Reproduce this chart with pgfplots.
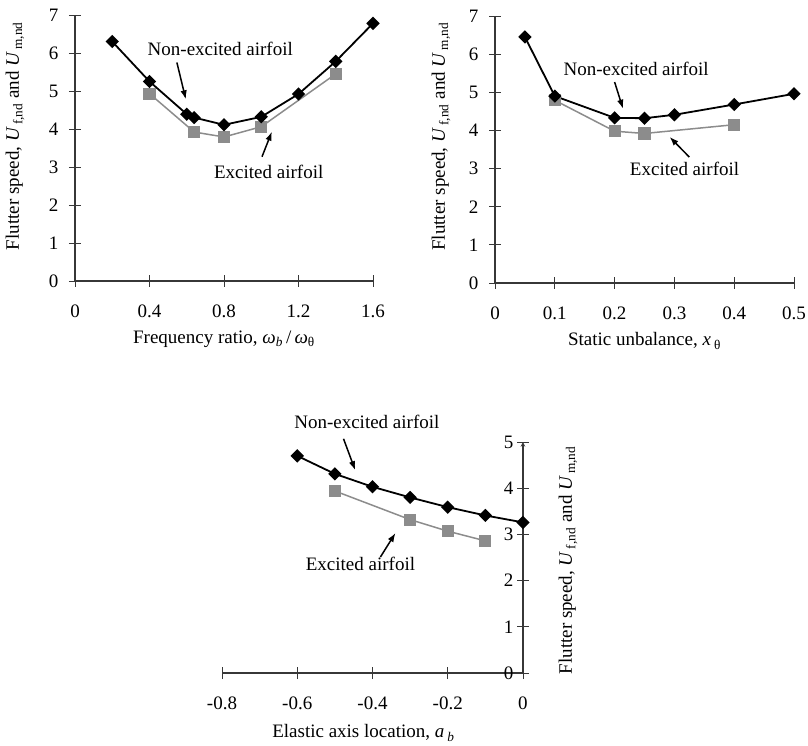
\documentclass[border=0pt]{standalone}
\usepackage{fontspec}
\setmainfont{Liberation Serif}
\usepackage{pgfplots}
\pgfplotsset{compat=1.18}
\usetikzlibrary{arrows.meta}
\definecolor{exgray}{RGB}{140,140,140}
\definecolor{axgray}{RGB}{55,55,55}
\newcommand{\tf}{\fontsize{19}{22}\selectfont}
\pgfplotsset{
 base/.style={scale only axis, axis x line=bottom, axis y line=left,
   axis line style={-, axgray, line width=1.1pt}, x axis line style={-}, y axis line style={-},
   tick align=center, major tick length=12pt, tick style={axgray, line width=0.8pt},
   clip=false, /pgf/number format/assume math mode=true,
   ticklabel style={font=\tf}, label style={font=\tf},
   xticklabel style={yshift=-14pt}, yticklabel style={xshift=-7pt}},
 nonex/.style={black, line width=1.8pt, mark=square*, mark size=3.8pt, mark options={rotate=45, solid, fill=black}},
 ex/.style={exgray, line width=1.5pt, mark=square*, mark size=5.3pt, mark options={fill=exgray}},
}
\tikzset{note/.style={font=\tf, inner sep=0pt},
 arr/.style={-{Latex[length=9pt,width=6.5pt]}, line width=1.5pt, black}}
\begin{document}
\begin{tikzpicture}[font=\tf]
\path[use as bounding box] (0,0) rectangle (808pt,745pt);
% Plot 1
\begin{axis}[base, at={(75pt,464pt)}, anchor=south west, width=298pt, height=266pt,
  xmin=0, xmax=1.6, ymin=0, ymax=7, xtick={0,0.4,0.8,1.2,1.6}, ytick={0,1,...,7},
  xlabel={Frequency ratio, \textit{ω}\textsubscript{\textit{b}}\,/\,\textit{ω}\textsubscript{θ}},
  xlabel style={at={([yshift=-58pt]axis description cs:0.5,0)}, anchor=center},
  ylabel={Flutter speed, \textit{U}\textsubscript{\,f,nd} and \textit{U}\textsubscript{\,m,nd}},
  ylabel style={at={([xshift=-60pt]axis description cs:0,0.545)}, anchor=center}]
\addplot[ex] coordinates {(0.4,4.93)(0.64,3.92)(0.8,3.79)(1.0,4.06)(1.4,5.45)};
\addplot[nonex] coordinates {(0.2,6.30)(0.4,5.25)(0.6,4.39)(0.64,4.30)(0.8,4.11)(1.0,4.32)(1.2,4.92)(1.4,5.78)(1.6,6.78)};
\node[note] at (axis cs:0.78,6.12) {Non-excited airfoil};
\draw[arr] (axis cs:0.547,5.75) -- (axis cs:0.595,4.78);
\node[note] at (axis cs:1.04,2.88) {Excited airfoil};
\draw[arr] (axis cs:1.004,3.27) -- (axis cs:1.057,3.93);
\end{axis}
% Plot 2
\begin{axis}[base, at={(495pt,462pt)}, anchor=south west, width=299pt, height=267pt,
  xmin=0, xmax=0.5, ymin=0, ymax=7, xtick={0,0.1,0.2,0.3,0.4,0.5}, ytick={0,1,...,7},
  xlabel={Static unbalance, \textit{x}\,\textsubscript{θ}},
  xlabel style={at={([yshift=-58pt]axis description cs:0.5,0)}, anchor=center},
  ylabel={Flutter speed, \textit{U}\textsubscript{\,f,nd} and \textit{U}\textsubscript{\,m,nd}},
  ylabel style={at={([xshift=-54pt]axis description cs:0,0.548)}, anchor=center}]
\addplot[ex] coordinates {(0.1,4.79)(0.2,3.98)(0.25,3.92)(0.4,4.15)};
\addplot[nonex] coordinates {(0.05,6.45)(0.1,4.90)(0.2,4.33)(0.25,4.32)(0.3,4.41)(0.4,4.68)(0.5,4.96)};
\node[note] at (axis cs:0.236,5.62) {Non-excited airfoil};
\draw[arr] (axis cs:0.2,5.27) -- (axis cs:0.214,4.57);
\node[note] at (axis cs:0.317,3.0) {Excited airfoil};
\draw[arr] (axis cs:0.325,3.30) -- (axis cs:0.292,3.83);
\end{axis}
% Plot 3
\begin{axis}[base, axis y line=right, at={(222pt,72pt)}, anchor=south west, width=301pt, height=231pt,
  xmin=-0.8, xmax=0, ymin=0, ymax=5, xtick={-0.8,-0.6,-0.4,-0.2,0}, ytick={0,1,...,5},
  yticklabel style={anchor=east, xshift=-5pt},
  xlabel={Elastic axis location, \textit{a}\,\textsubscript{\textit{b}}},
  xlabel style={at={([yshift=-60pt]axis description cs:0.47,0)}, anchor=center},
  ylabel={Flutter speed, \textit{U}\textsubscript{\,f,nd} and \textit{U}\textsubscript{\,m,nd}},
  ylabel style={at={([xshift=45pt]axis description cs:1,0.488)}, anchor=center, rotate=0}]
\addplot[ex] coordinates {(-0.5,3.94)(-0.3,3.32)(-0.2,3.07)(-0.1,2.86)};
\addplot[nonex] coordinates {(-0.6,4.70)(-0.5,4.31)(-0.4,4.03)(-0.3,3.80)(-0.2,3.59)(-0.1,3.41)(0,3.26)};
\node[note] at (axis cs:-0.415,5.43) {Non-excited airfoil};
\draw[arr] (axis cs:-0.477,5.07) -- (axis cs:-0.446,4.39);
\node[note] at (axis cs:-0.432,2.37) {Excited airfoil};
\draw[arr] (axis cs:-0.379,2.51) -- (axis cs:-0.339,3.03);
\end{axis}
\end{tikzpicture}
\end{document}
